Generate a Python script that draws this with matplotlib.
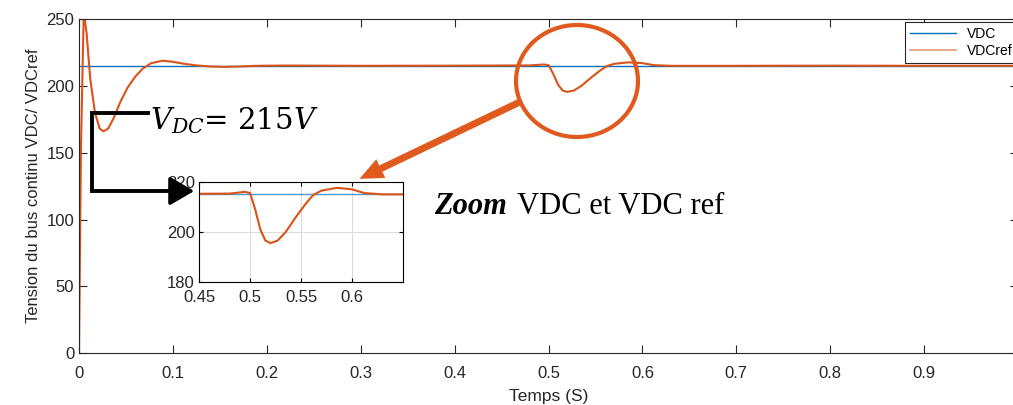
import numpy as np
import matplotlib.pyplot as plt
from matplotlib.patches import Ellipse, FancyArrowPatch

plt.rcParams['font.family'] = ['Liberation Sans', 'DejaVu Sans']

# reference DC bus voltage
vdc_ref_level = 215.0

t_pts = [0.0, 0.002, 0.005, 0.008, 0.012, 0.017, 0.022, 0.026, 0.031, 0.037,
         0.044, 0.052, 0.060, 0.068, 0.077, 0.089, 0.100, 0.112, 0.125,
         0.140, 0.155, 0.170, 0.190, 0.220, 0.300, 0.400, 0.480, 0.495,
         0.500, 0.505, 0.510, 0.515, 0.520, 0.527, 0.535, 0.545, 0.555,
         0.562, 0.570, 0.585, 0.600, 0.612, 0.630, 0.700, 0.800, 0.900, 1.0]
v_pts = [0.0, 150.0, 255.0, 240.0, 205.0, 180.0, 168.0, 166.0, 168.0, 176.0,
         188.0, 199.0, 207.0, 213.0, 217.0, 218.8, 218.0, 216.5, 215.3,
         214.5, 214.2, 214.5, 215.0, 215.2, 215.0, 215.1, 215.3, 216.0,
         215.5, 209.0, 201.0, 196.5, 195.5, 196.5, 200.0, 206.0, 211.5,
         214.8, 216.5, 217.6, 217.0, 215.5, 215.0, 215.0, 215.1, 215.0, 215.0]

blue = '#0072BD'
orange = '#D95319'

fig = plt.figure(figsize=(10.13, 4.05), dpi=100)
ax = fig.add_axes([0.078, 0.128, 0.927, 0.825])
ax.plot([0, 1], [vdc_ref_level, vdc_ref_level], color=blue, lw=1.0, label='VDC')
ax.plot(t_pts, v_pts, color=orange, lw=1.5, label='VDCref')
ax.set_xlim(0, 1)
ax.set_ylim(0, 250)
ax.set_xticks(np.arange(0, 1.0, 0.1))
ax.set_xticklabels(['0', '0.1', '0.2', '0.3', '0.4', '0.5', '0.6', '0.7', '0.8', '0.9'])
ax.set_yticks(np.arange(0, 251, 50))
ax.tick_params(direction='in', top=True, right=True, labelsize=12, length=6,
               color='#262626', labelcolor='#262626')
ax.tick_params(axis='x', pad=9)
for s in ax.spines.values():
    s.set_color('#262626')
ax.set_xlabel('Temps (S)', fontsize=12.5, labelpad=6, color='#262626')
ax.set_ylabel('Tension du bus continu VDC/ VDCref', fontsize=12, color='#262626')
leg = ax.legend(loc='upper right', bbox_to_anchor=(1.005, 1.005), fontsize=10,
                fancybox=False, edgecolor='#262626', framealpha=1, handlelength=3.3,
                borderaxespad=0.3, labelspacing=0.2)
leg.get_frame().set_linewidth(0.8)
leg.get_lines()[1].set_alpha(0.6)
leg.get_lines()[1].set_linewidth(1.2)

# zoom inset
ins = fig.add_axes([0.1965, 0.304, 0.2015, 0.247])
ins.plot([0.45, 0.65], [vdc_ref_level, vdc_ref_level], color=blue, lw=1.0, alpha=0.7)
ins.plot(t_pts, v_pts, color=orange, lw=1.5)
ins.set_xlim(0.45, 0.65)
ins.set_ylim(180, 220)
ins.set_xticks([0.45, 0.5, 0.55, 0.6])
ins.set_xticklabels(['0.45', '0.5', '0.55', '0.6'])
ins.set_yticks([180, 200, 220])
ins.grid(True, color='#dcdcdc', lw=0.8)
ins.tick_params(direction='in', top=True, right=True, labelsize=12, length=3, pad=3,
                labelcolor='#262626')
ins.tick_params(axis='x', pad=6)

# overlay in pixel coordinates for annotations
ov = fig.add_axes([0, 0, 1, 1], facecolor='none')
ov.set_xlim(0, 1013)
ov.set_ylim(405, 0)
ov.axis('off')

ov.plot([148, 92, 92, 182], [113, 113, 191, 191], color='black', lw=2.8,
        solid_joinstyle='miter')
ov.add_patch(FancyArrowPatch((178, 191), (197, 191), arrowstyle='-|>,head_length=6,head_width=3.5',
                             color='black', lw=2.5, mutation_scale=2.5))
ov.text(150, 121, r'$V_{DC}$= 215$V$', fontsize=21, va='center', ha='left',
        family='DejaVu Serif', math_fontfamily='dejavuserif')

ov.add_patch(Ellipse((577, 81), 122, 112, fill=False, ec='#E05A1E', lw=3))
ov.add_patch(FancyArrowPatch((524, 100), (357, 180),
                             arrowstyle='simple,head_length=1.7,head_width=1.5,tail_width=0.5',
                             color='#E05A1E', mutation_scale=10, lw=0))

ov.text(434, 206, 'Zoom', fontsize=22, fontweight='bold', fontstyle='italic',
        family='Liberation Serif', va='center', ha='left')
ov.text(517, 206, 'VDC et VDC ref', fontsize=22, family='Liberation Serif',
        va='center', ha='left')

fig.savefig('out.png', dpi=100)
